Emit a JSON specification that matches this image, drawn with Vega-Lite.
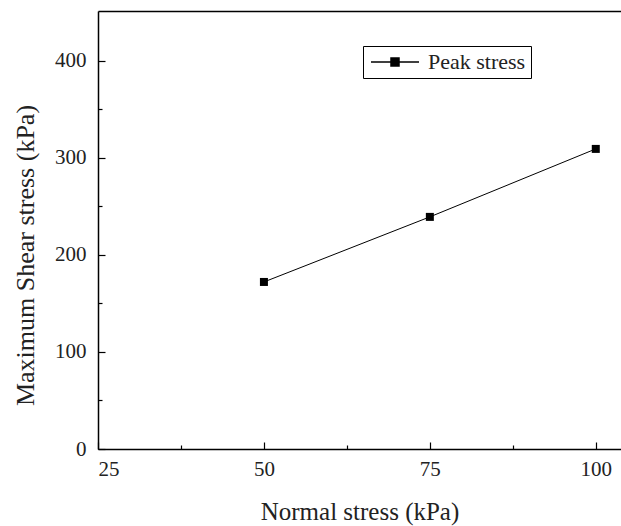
{
  "$schema": "https://vega.github.io/schema/vega-lite/v6.json",
  "width": 523,
  "height": 438,
  "autosize": {"type": "none"},
  "padding": {"left": 98, "top": 11, "right": 0, "bottom": 77},
  "background": "white",
  "config": {
    "view": {"stroke": null},
    "font": "Liberation Serif",
    "axis": {
      "domainColor": "black",
      "domainWidth": 1.5,
      "tickColor": "black",
      "tickWidth": 1.2,
      "grid": false,
      "labelColor": "#222",
      "labelFont": "Liberation Serif",
      "labelFontSize": 21,
      "titleFont": "Liberation Serif",
      "titleFontSize": 25,
      "titleFontWeight": "normal",
      "titleColor": "#222"
    }
  },
  "data": {
    "values": [
      {"normal": 50, "shear": 172, "series": "Peak stress"},
      {"normal": 75, "shear": 239, "series": "Peak stress"},
      {"normal": 100, "shear": 309, "series": "Peak stress"}
    ]
  },
  "layer": [
    {
      "mark": {"type": "line", "color": "black", "strokeWidth": 1},
      "encoding": {
        "x": {
          "field": "normal",
          "type": "quantitative",
          "scale": {"domain": [25, 103.8], "nice": false, "zero": false},
          "axis": {
            "orient": "bottom",
            "title": "Normal stress (kPa)",
            "values": [25, 37.5, 50, 62.5, 75, 87.5, 100],
            "labelExpr": "datum.value % 25 === 0 ? datum.label : ''",
            "tickSize": {"condition": {"test": "datum.value % 25 === 0", "value": -7}, "value": -4},
            "labelPadding": 16,
            "titlePadding": 20
          }
        },
        "y": {
          "field": "shear",
          "type": "quantitative",
          "scale": {"domain": [0, 451], "nice": false},
          "axis": {
            "title": "Maximum Shear stress (kPa)",
            "titleFontSize": 26,
            "titleY": 244,
            "values": [0, 50, 100, 150, 200, 250, 300, 350, 400],
            "labelExpr": "datum.value % 100 === 0 ? datum.label : ''",
            "tickSize": {"condition": {"test": "datum.value % 100 === 0", "value": -7}, "value": -4},
            "labelPadding": 19,
            "titlePadding": 16
          }
        }
      }
    },
    {
      "mark": {"type": "square", "filled": true, "size": 64, "opacity": 1},
      "encoding": {
        "x": {
          "field": "normal",
          "type": "quantitative",
          "axis": {"orient": "top", "title": null, "labels": false, "ticks": false}
        },
        "y": {"field": "shear", "type": "quantitative"},
        "color": {
          "field": "series",
          "type": "nominal",
          "scale": {"range": ["black"]},
          "legend": {
            "title": null,
            "orient": "none",
            "legendX": 265,
            "legendY": 35,
            "strokeColor": "black",
            "fillColor": "white",
            "padding": 5,
            "symbolType": "M-3,0H3M-0.5,-0.5H0.5V0.5H-0.5Z",
            "symbolSize": 256,
            "symbolStrokeColor": "black",
            "symbolFillColor": "black",
            "symbolStrokeWidth": 1.5,
            "symbolOffset": 16,
            "labelOffset": 22,
            "labelFont": "Liberation Serif",
            "labelFontSize": 22,
            "labelColor": "#222"
          }
        }
      }
    }
  ]
}
